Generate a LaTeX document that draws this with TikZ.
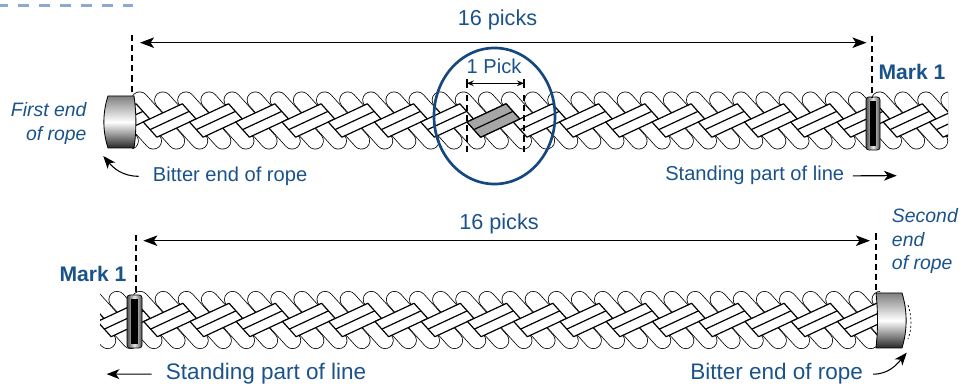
\documentclass[tikz,border=0pt]{standalone}
\usepackage{fontspec}
\setmainfont{Liberation Sans}
\usetikzlibrary{arrows.meta}

\definecolor{labelblue}{RGB}{26,82,138}
\definecolor{ringblue}{RGB}{22,72,128}
\definecolor{rimblue}{RGB}{140,170,205}

\begin{document}
\begin{tikzpicture}[x=0.025cm, y=0.025cm]

    % Picture style
    \tikzset{
        yarn/.style={draw=black, line width=0.55pt, double=white,
            double distance=11.1pt, line cap=round},
        plait/.style={fill=white, draw=black, line width=0.85pt, line join=round},
        guide/.style={line width=1.9pt, dash pattern=on 4.3pt off 2.9pt},
        dimline/.style={line width=0.75pt,
            {Stealth[length=10pt,width=7.5pt,inset=2.5pt]}-{Stealth[length=10pt,width=7.5pt,inset=2.5pt]}},
        pointer/.style={line width=0.75pt, -{Stealth[length=9pt,width=7pt,inset=2.5pt]}},
        note/.style={text=labelblue, inner sep=0pt, font=\fontsize{14.3}{16}\selectfont},
        bignote/.style={note, font=\fontsize{16}{18}\selectfont},
        picknote/.style={note, font=\fontsize{15.4}{18}\selectfont},
        endnote/.style={note, font=\fontsize{13.8}{16}\selectfont\itshape},
        marknote/.style={note, font=\fontsize{15}{17}\selectfont\bfseries},
        whipping/.style={top color=black!50, bottom color=black!85, middle color=white,
            draw=black, line width=0.6pt},
        markband/.style={left color=black!70, right color=black!70, middle color=black!10,
            draw=black, line width=0.5pt, rounded corners=2pt}
    }

    \useasboundingbox (0,0) rectangle (974,387);

    % Ropes
    \foreach \ox/\oy/\xa/\xb in {146.5/266.5/132/948, 147/67/100/880} {
        \begin{scope}
            \clip (\xa,{\oy-40}) rectangle (\xb,{\oy+40});
            \foreach \k in {-3,...,18} {
                \draw[yarn, shift={({\ox+\k*46.25},\oy)}] (-6.82,20.41) -- (29.94,-20.41);
                \draw[yarn, shift={({\ox+\k*46.25},\oy)}] (16.31,20.41) -- (53.06,-20.41);
            }
            \foreach \k in {-3,...,18} {
                \filldraw[plait, shift={({\ox+\k*46.25},\oy)}] (-3.26,-1.52) -- (35.83,16.71) -- (49.51,1.52) -- (10.42,-16.71) -- cycle;
                \draw[plait, shift={({\ox+\k*46.25},\oy)}] (3.58,-9.11) -- (42.67,9.11);
            }
        \end{scope}
    }

    % Highlighted pick
    \filldraw[plait, fill=black!35, shift={(470.25,266.5)}] (-3.26,-1.52) -- (35.83,16.71) -- (49.51,1.52) -- (10.42,-16.71) -- cycle;
    \draw[plait, shift={(470.25,266.5)}] (3.58,-9.11) -- (42.67,9.11);

    % Whippings and marks
    \draw[whipping] (108,291) -- (134,291) .. controls (136.5,274) and (136.5,256) .. (134,239)
        -- (108,239) .. controls (102.5,256) and (102.5,274) .. (108,291) -- cycle;
    \draw[whipping] (876,94) -- (902,94) .. controls (907.5,76) and (907.5,57) .. (902,39)
        -- (876,39) .. controls (878,57) and (878,76) .. (876,94) -- cycle;
    \draw[line width=0.5pt, dash pattern=on 1.5pt off 1.5pt] (908,82) .. controls (912,70) and (912,58) .. (908,48);
    \draw[markband] (866,237) rectangle (880,290);
    \fill (870,241) rectangle (876,286);
    \draw[markband] (127,39) rectangle (142,92);
    \fill (131,43) rectangle (138,88);

    % Guides and spans
    \coordinate (tl1) at (132,352);   \coordinate (tl2) at (132,293);
    \coordinate (tr1) at (872,351);   \coordinate (tr2) at (872,290);
    \coordinate (bl1) at (136,152);   \coordinate (bl2) at (136,92);
    \coordinate (br1) at (876,153.5); \coordinate (br2) at (876,94);
    \draw[guide] (tl1) -- (tl2);
    \draw[guide] (tr1) -- (tr2);
    \draw[guide] (bl1) -- (bl2);
    \draw[guide] (br1) -- (br2);
    \coordinate (ts1) at (140,344.3); \coordinate (ts2) at (866.5,344.3);
    \coordinate (bs1) at (143.3,146.3); \coordinate (bs2) at (870,146.3);
    \draw[dimline] (ts1) -- (ts2);
    \draw[dimline] (bs1) -- (bs2);

    % Pick inset
    \draw[ringblue, line width=1.9pt] (494.5,271) ellipse [x radius=1.5125cm, y radius=1.7cm];
    \coordinate (pl1) at (466.7,292); \coordinate (pl2) at (466.7,232);
    \coordinate (pr1) at (524,292);   \coordinate (pr2) at (524,232);
    \draw[guide, line width=1.4pt] (pl1) -- (pl2);
    \draw[guide, line width=1.4pt] (pr1) -- (pr2);
    \coordinate (pk1) at (466.7,303.7); \coordinate (pk2) at (524,303.7);
    \draw[line width=1.3pt] ([yshift=3pt]pk1) -- ([yshift=-3pt]pk1);
    \draw[line width=1.3pt] ([yshift=3pt]pk2) -- ([yshift=-3pt]pk2);
    \draw[line width=0.75pt, {Stealth[length=5pt,width=4pt]}-{Stealth[length=5pt,width=4pt]}] (pk1) -- (pk2);

    % Edge of panel
    \coordinate (rim1) at (-2.7,381.3); \coordinate (rim2) at (133,381.3);
    \draw[rimblue, line width=2.1pt, dash pattern=on 7.8pt off 7.1pt] (rim1) -- (rim2);

    % Labels
    \node[picknote, anchor=base] (picks-top) at (497.5,361) {16 picks};
    \node[picknote, anchor=base] (picks-bot) at (499,157.7) {16 picks};
    \node[note, anchor=base] (one-pick) at (494,313.7) {1 Pick};
    \node[marknote, anchor=base west] (mark-top) at (878.3,307.7) {Mark 1};
    \node[marknote, anchor=base west] (mark-bot) at (59.3,105.3) {Mark 1};
    \node[endnote, anchor=base east] (first-a) at (86.7,270) {First end};
    \node[endnote, anchor=base east] (first-b) at (86.7,246.3) {of rope};
    \node[endnote, anchor=base west] (second-a) at (891.7,164.3) {Second};
    \node[endnote, anchor=base west] (second-b) at (891.7,140.3) {end};
    \node[endnote, anchor=base west] (second-c) at (891.7,117) {of rope};
    \node[note, anchor=base west] (bitter-top) at (152.7,205.5) {Bitter end of rope};
    \node[note, anchor=base west] (stand-top) at (665,206) {Standing part of line};
    \node[bignote, anchor=base west] (stand-bot) at (165.7,7) {Standing part of line};
    \node[bignote, anchor=base west] (bitter-bot) at (690,7) {Bitter end of rope};

    % Pointers
    \coordinate (cap1) at (103.3,231);
    \coordinate (mark1-out) at (896.7,211.3);
    \coordinate (mark2-out) at (106.7,12.9);
    \coordinate (cap2) at (906.7,34.3);
    \draw[pointer] ([xshift=-10pt]bitter-top.west) to[out=180,in=-50] (cap1);
    \draw[pointer] ([xshift=6pt]stand-top.east) -- (mark1-out);
    \draw[pointer] ([xshift=-10pt]stand-bot.west) -- (mark2-out);
    \draw[pointer] ([xshift=7pt]bitter-bot.east) to[out=0,in=230] (cap2);
\end{tikzpicture}
\end{document}
